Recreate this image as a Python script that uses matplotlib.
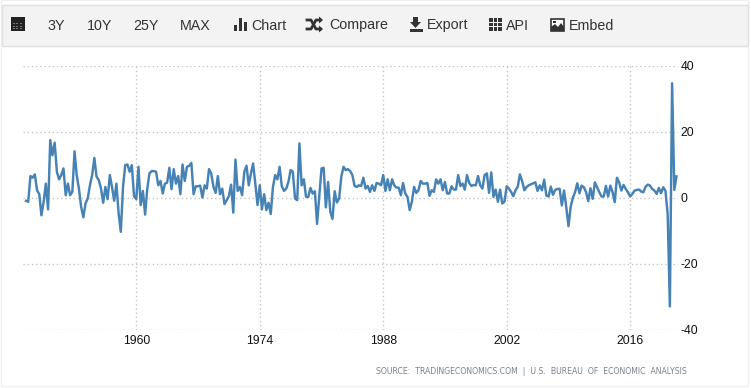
import matplotlib
matplotlib.use('Agg')
import matplotlib.pyplot as plt
from matplotlib.patches import Rectangle, Polygon
import pandas as pd

# GDP growth, quarterly
gdp_1947 = [-1.0, -1.3, 6.5, 6, 7, 2.2, 1, -5.4, -1.3, 4.2, -3.6, 17.4, 12.8, 16.6, 7.8, 5.5, 6.8, 8.8, 0.7, 4.2,
            0.7, 1.7, 14, 6.8, 2.7, -2.8, -6, -1.8, -0.3, 3.7, 6.8, 12, 6.3, 5.3, 2.7, -1.6, 3.2, -0.5, 6.8, 3.2,
            -1, 4.2, -4.8, -10.4, 3.2, 9.8, 10, 7.8, 9.8, 0.4, -0.5, 9.3, -2.3, 2, -5.2, 2.7, 7.3, 8, 8, 7.8,
            3.7, 5, 1.2, 4.2, 4.5, 9, 2.5, 8.6, 4.2, 6.5, 1, 10, 5, 9.3, 9.6, 10.5]
gdp_1966 = [1, 3.4, 3.4, 3.6, 0, 3.7, 2.7, 8.6, 7.3, 3.2, 1.4, 6.5, 1, 2.7, -2, -0.8, 0.4, 3.9, -4.6, 11.5,
            2, 3.2, 0.7, 7.8, 9.6, 3.7, 7.3, 10.3, 4.2, -2.3, 3.7, -3.6, 1, -3.8, -1.6, -5, 3.2, 6.8, 5.5, 9.3,
            3.4, 2, 2.7, 4.7, 8.3, 7.8, -0.3, -0.8, 16.4, 3.7, 5.5, 0.2, 0.2, 2.9, 1.2, 1.9, -8, 0.2, 8.8, 9,
            -3, 4.7, -4.3, -6.5, 1.9, -1.5, -0.3, 6.3, 9.3, 8.3, 8.6, 8, 6.8, 3.5, 3.2, 3.7, 3.5, 6, 2.7, 3.5]
gdp_1986 = [1.7, 3.7, 2, 4.4, 4.2, 3.7, 6.8, 2, 5.5, 2.2, 5.5, 3.7, 3, 3, 0.7, 4.4, 1.2, 0.2, -3.8, -1.3,
            3.2, 1.4, 2.2, 5, 4.2, 4.2, 4.4, 0.5, 2.2, 1.7, 5.5, 4.2, 5.5, 2.2, 4.7, 1.2, 1.2, 3.4, 2.4, 2.4,
            6.8, 3.5, 4.2, 2.4, 6.8, 4.4, 3.5, 3.8, 3.7, 6.5, 3.7, 2.7, 6.8, 7.3, 1.4, 7.6, 0.2, 2.4, -1.3, 2.4,
            -1.8, -1.3, 3.4, 2.7, 1.7, 0.4, 2.2, 3.2, 7, 5, 2.2, 3.2, 3.7, 4, 4.3, 4.6, 2, 3.7, 2.2]
gdp_2006 = [5.4, 0.6, 0.3, 3.3, 0.8, 2.3, 2.6, 2.6, -2.4, 2.1, -2.9, -8.7, -2.9, -0.1, 1.6, 4.3, 1.3, 3.6, 3.1, 1.6,
            -1.1, 2.8, -0.4, 4.6, 3.1, 1.6, 0.3, 0.3, 3.5, 0.3, 3.6, 1.6, -1.4, 6, 4.6, 2.1, 3.8, 2.6, 1.6, 0.3,
            1.1, 2.1, 2.3, 2.4, 1.8, 1.6, 3.3, 3.9, 3.6, 2.6, 2.1, 1.1, 2.9, 1.3, 3.1, 2.0, -5, -33, 34.6, 2.3, 6.4]
values = gdp_1947 + gdp_1966 + gdp_1986 + gdp_2006

dates = pd.date_range(end='2021-03-31', periods=len(values), freq='QE')
years = dates.year + (dates.dayofyear - 1) / 365.25

x_ticks = [1960, 1974, 1988, 2002, 2016]
y_ticks = [-40, -20, 0, 20, 40]
buttons = ['3Y', '10Y', '25Y', 'MAX', 'Chart', 'Compare', 'Export', 'API', 'Embed']
button_x = [47, 87, 133, 180, 251, 329, 427, 506, 569]
source = 'SOURCE:  TRADINGECONOMICS.COM  |  U.S.  BUREAU  OF  ECONOMIC  ANALYSIS'

W, H = 751, 388
plt.rcParams['font.family'] = ['Liberation Sans', 'DejaVu Sans']
fig = plt.figure(figsize=(W / 100, H / 100), dpi=100)

# overlay in pixel coordinates for the page frame and toolbar
page = fig.add_axes([0, 0, 1, 1])
page.set_xlim(0, W)
page.set_ylim(H, 0)
page.axis('off')
page.add_patch(Rectangle((1, 0), 747, 386, fc='white', ec='#f0f0f0', lw=1))
page.add_patch(Rectangle((1.5, 4.5), 746, 41, fc='#f3f3f3', ec='#e0e0e0', lw=1))

dark = '#333333'
for label, bx in zip(buttons, button_x):
    page.text(bx, 25.5, label, fontsize=10.3, color=dark, va='center', ha='left')

# calendar icon
page.add_patch(Rectangle((11, 17), 14, 14, fc='#222222', ec='none'))
for cx in [12.5, 16, 19.5]:
    for cy in [22.5, 25.5, 28]:
        page.add_patch(Rectangle((cx, cy), 2.2, 1.4, fc='#777777', ec='none'))
# bar chart icon
for bx, by in [(234, 25), (239, 18), (244, 22)]:
    page.add_patch(Rectangle((bx, by), 3.2, 31 - by, fc=dark, ec='none'))
# compare (shuffle) icon
page.plot([307, 311, 316, 320], [20, 20, 29, 29], color=dark, lw=2)
page.plot([307, 311, 316, 320], [29, 29, 20, 20], color=dark, lw=2)
page.add_patch(Polygon([(319, 16.5), (323, 20), (319, 23.5)], fc=dark))
page.add_patch(Polygon([(319, 25.5), (323, 29), (319, 32.5)], fc=dark))
# export icon
page.add_patch(Polygon([(413, 17), (418, 17), (418, 22), (421, 22), (415.5, 28), (410, 22), (413, 22)], fc=dark))
page.add_patch(Rectangle((409.5, 28.5), 13, 3, fc=dark, ec='none'))
# api grid icon
for gx in [489, 493.7, 498.4]:
    for gy in [18, 22.7, 27.4]:
        page.add_patch(Rectangle((gx, gy), 3.6, 3.6, fc=dark, ec='none'))
# embed picture icon
page.add_patch(Rectangle((551, 18.5), 13, 12, fc='white', ec=dark, lw=1.2))
page.add_patch(Polygon([(551, 31), (551, 27), (555, 24), (558, 27), (561, 23), (564, 27), (564, 31)], fc=dark))
page.add_patch(Rectangle((553, 20.5), 2.5, 2.5, fc=dark, ec='none'))

page.text(687, 371, source, fontsize=5.6, color='#75828f', family=['DejaVu Sans'], ha='right', va='center')

# chart
left, right, top, bottom = 23, 678, 65.5, 329.5
ax = fig.add_axes([left / W, 1 - bottom / H, (right - left) / W, (bottom - top) / H])
ax.patch.set_alpha(0)
ax.plot(years, values, color='#4682b4', lw=1.75, solid_joinstyle='round')
ax.set_xlim(1960 - (136.3 - left) / 8.82, 1960 + (right - 136.3) / 8.82)
ax.set_ylim(-40, 40)
ax.set_xticks(x_ticks)
ax.set_xticklabels([str(y) for y in x_ticks])
ax.set_yticks(y_ticks)
ax.set_yticklabels([str(y) for y in y_ticks])
ax.yaxis.tick_right()
ax.tick_params(length=0, labelsize=8.7, labelcolor='#111111')
ax.tick_params(axis='x', pad=4)
ax.tick_params(axis='y', pad=2)
ax.grid(True, color='#c4c4c4', lw=1, ls=(0, (1, 2)))
ax.set_axisbelow(True)
for s in ax.spines.values():
    s.set_visible(False)

plt.savefig('out.png', dpi=100)
print(len(values), years[0])
